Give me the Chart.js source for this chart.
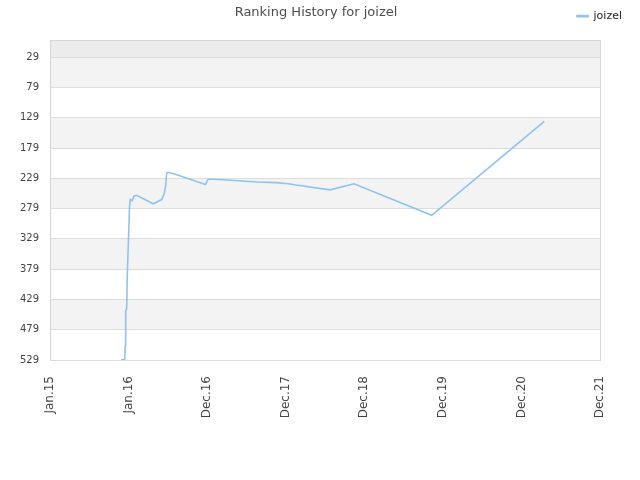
<!DOCTYPE html>
<html>
<head>
<meta charset="utf-8">
<script src="https://cdn.jsdelivr.net/npm/chart.js@4/dist/chart.umd.min.js"></script>
<style>
html,body{margin:0;padding:0;background:#fff;}
#wrap{width:640px;height:480px;}
</style>
</head>
<body>
<div id="wrap"><canvas id="c" width="640" height="480"></canvas></div>
<script>
const TITLE = 'Ranking History for joizel';
const SERIES = 'joizel';
const X_LABELS = ['Jan.15', 'Jan.16', 'Dec.16', 'Dec.17', 'Dec.18', 'Dec.19', 'Dec.20', 'Dec.21'];
const Y_TICKS = [29, 79, 129, 179, 229, 279, 329, 379, 429, 479, 529];
const Y_MIN = 1;
const Y_MAX = 529;
// x position in units of the x tick index (0 = Jan.15 ... 7 = Dec.21)
const X_POS = [0.904, 0.951, 0.957, 0.963, 0.976, 0.984, 1.002, 1.012, 1.022, 1.044, 1.069, 1.104,
  1.315, 1.422, 1.455, 1.473, 1.485, 1.506, 1.613, 1.979, 2.015, 2.151, 2.393, 2.631, 2.876,
  3.029, 3.131, 3.564, 3.869, 4.858, 6.291];
const RANKS = [529, 528, 506, 448, 444, 387, 318, 276, 264, 266, 258, 257,
  271, 264, 254, 240, 220, 219, 223, 239, 230, 231, 233, 235, 236,
  238, 240, 248, 238, 290, 135];

const LINE = '#8ec3f3';
const BAND = '#f3f3f3';
const TOP_BAND = '#ececec';
const GRID = '#dddddd';
const FRAME = '#d6d6d6';
const FONT = 'DejaVu Sans';

const bandPlugin = {
  id: 'bands',
  beforeDraw(chart) {
    const {ctx, chartArea: a, scales: {y}} = chart;
    ctx.save();
    const w = a.right - a.left;
    let y0 = y.getPixelForValue(Y_MIN), y1 = y.getPixelForValue(Y_TICKS[0]);
    ctx.fillStyle = TOP_BAND;
    ctx.fillRect(a.left, Math.min(y0, y1), w, Math.abs(y1 - y0));
    ctx.fillStyle = BAND;
    for (let i = 0; i < Y_TICKS.length - 1; i += 2) {
      y0 = y.getPixelForValue(Y_TICKS[i]);
      y1 = y.getPixelForValue(Y_TICKS[i + 1]);
      ctx.fillRect(a.left, Math.min(y0, y1), w, Math.abs(y1 - y0));
    }
    ctx.strokeStyle = FRAME;
    ctx.lineWidth = 1;
    ctx.strokeRect(Math.round(a.left) + 0.5, Math.round(a.top) + 0.5,
      Math.round(a.right - a.left), Math.round(a.bottom - a.top));
    ctx.restore();
  }
};

new Chart(document.getElementById('c'), {
  type: 'line',
  data: {
    datasets: [{
      label: SERIES,
      data: X_POS.map((x, i) => ({x: x, y: RANKS[i]})),
      borderColor: LINE,
      backgroundColor: LINE,
      borderWidth: 1.6,
      pointRadius: 0,
      pointHoverRadius: 0,
      tension: 0,
      fill: false
    }]
  },
  options: {
    responsive: false,
    animation: false,
    layout: {padding: {left: 0, right: 8, top: 0, bottom: 0}},
    plugins: {
      title: {
        display: true,
        text: TITLE,
        color: '#4d4d4d',
        font: {family: FONT, size: 13, weight: 'normal'},
        padding: {top: 5, bottom: -20}
      },
      legend: {
        display: true,
        position: 'top',
        align: 'end',
        labels: {
          color: '#222',
          font: {family: FONT, size: 11},
          boxWidth: 11,
          boxHeight: 1,
          padding: 10
        }
      },
      tooltip: {enabled: false}
    },
    scales: {
      x: {
        type: 'linear',
        position: 'bottom',
        min: 0,
        max: X_LABELS.length - 1,
        afterBuildTicks: s => { s.ticks = X_LABELS.map((_, i) => ({value: i})); },
        afterFit: s => { s.height = 120; },
        ticks: {
          autoSkip: false,
          minRotation: 90,
          maxRotation: 90,
          padding: 16,
          color: '#444',
          font: {family: FONT, size: 12},
          callback: v => X_LABELS[v]
        },
        grid: {display: false, drawTicks: false},
        border: {display: false}
      },
      xTop: {
        type: 'linear',
        axis: 'x',
        position: 'top',
        display: true,
        afterFit: s => { s.height = 8.7; },
        ticks: {display: false},
        grid: {display: false, drawTicks: false},
        border: {display: false}
      },
      y: {
        type: 'linear',
        reverse: true,
        min: Y_MIN,
        max: Y_MAX,
        afterBuildTicks: s => { s.ticks = Y_TICKS.map(v => ({value: v})); },
        afterFit: s => { s.width = 50; },
        ticks: {
          padding: 11,
          color: '#444',
          font: {family: FONT, size: 10},
          callback: v => String(v)
        },
        grid: {color: GRID, drawTicks: false},
        border: {display: false}
      },
      yRight: {
        type: 'linear',
        axis: 'y',
        position: 'right',
        display: true,
        afterFit: s => { s.width = 32; },
        ticks: {display: false},
        grid: {display: false, drawTicks: false},
        border: {display: false}
      }
    }
  },
  plugins: [bandPlugin]
});
</script>
</body>
</html>
